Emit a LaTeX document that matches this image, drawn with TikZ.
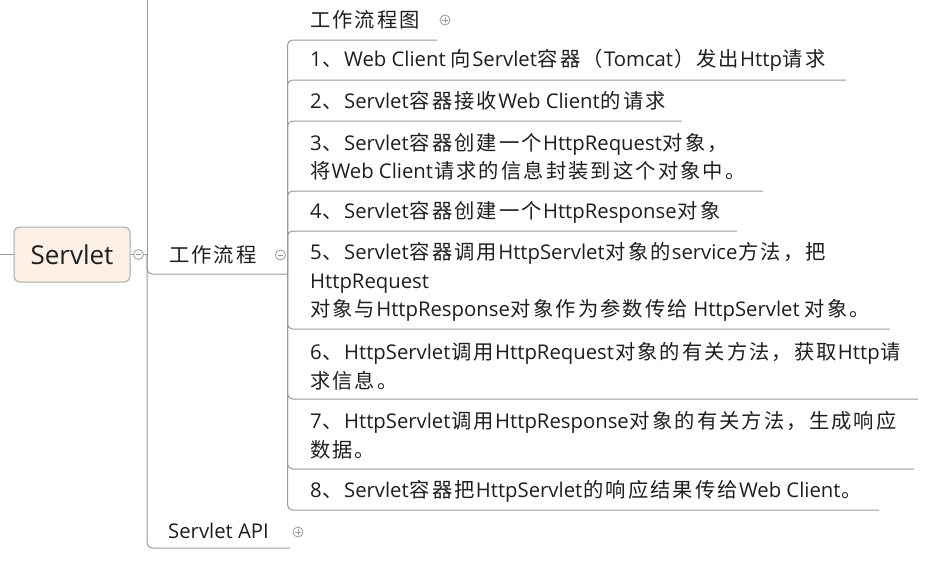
\documentclass[tikz,border=0pt]{standalone}
\usepackage{fontspec}
\setmainfont{Open Sans}
\newfontfamily\latinf{Open Sans}
\newfontfamily\cjk{Noto Sans CJK SC}[Scale=1.0]
\XeTeXinterchartokenstate=1
\newXeTeXintercharclass\CJKcls
\newcount\cjkc
\def\setcjkrange#1#2{\cjkc=#1\relax\loop\XeTeXcharclass\cjkc=\CJKcls\ifnum\cjkc<#2\advance\cjkc by 1\repeat}
\setcjkrange{"3000}{"303F}
\setcjkrange{"4E00}{"9FFF}
\setcjkrange{"FF00}{"FFEF}
\XeTeXinterchartoks 0 \CJKcls={\kern1pt\cjk}
\XeTeXinterchartoks 4095 \CJKcls={\cjk}
\XeTeXinterchartoks \CJKcls 0={\kern1pt\latinf}
\XeTeXinterchartoks \CJKcls 4095={\latinf}
\XeTeXinterchartoks \CJKcls \CJKcls={\kern2.1pt}
\definecolor{linec}{HTML}{9A9A9A}
\definecolor{txtc}{HTML}{1E1E1E}
\definecolor{rootfill}{HTML}{FDF1E7}
\definecolor{rootline}{HTML}{A8A8A8}
\begin{document}
\begin{tikzpicture}[x=1pt,y=-1pt,
  conn/.style={draw=linec,line width=1pt,rounded corners=5pt},
  rootbox/.style={draw=rootline,fill=rootfill,rounded corners=6pt,line width=1pt,
    minimum width=116pt,minimum height=55pt,inner sep=0pt,text=txtc,
    font=\fontsize{26pt}{30pt}\selectfont},
  topic/.style={anchor=west,inner sep=0pt,text=txtc,align=left,
    font=\fontsize{20.3pt}{28.5pt}\selectfont},
  tog/.style={circle,draw=linec,fill=white,line width=0.8pt,minimum size=10pt,inner sep=0pt},
  minus/.style={tog,path picture={\draw[linec,line width=0.8pt]
    ([xshift=-2.6pt]path picture bounding box.center) -- ([xshift=2.6pt]path picture bounding box.center);}},
  plus/.style={tog,path picture={\draw[linec,line width=0.8pt]
    ([xshift=-2.6pt]path picture bounding box.center) -- ([xshift=2.6pt]path picture bounding box.center)
    ([yshift=-2.6pt]path picture bounding box.center) -- ([yshift=2.6pt]path picture bounding box.center);}}
]
\useasboundingbox (0,0) rectangle (949,566);
% off-screen anchors
\coordinate (offleft) at (-5,254.5);
\coordinate (offtop) at (147,-10);
\coordinate (rhub) at (147,254.5);
\coordinate (whub) at (287.5,274);
% underline ends
\coordinate (u0) at (437,40);
\coordinate (u1) at (846,80);
\coordinate (u2) at (682,121);
\coordinate (u3) at (763,191);
\coordinate (u4) at (737,231);
\coordinate (u5) at (890,329);
\coordinate (u6) at (918,399);
\coordinate (u7) at (914,469);
\coordinate (u8) at (879,510);
\coordinate (ua) at (290,548);

% root
\node[rootbox] (root) at (72,254.5) {Servlet};
\draw[conn] (offleft) -- (root.west);
\draw[conn] (root.east) -- (rhub);
\draw[conn] (rhub) -- (offtop);
\draw[conn] (rhub) |- (whub);
\draw[conn] (rhub) |- (ua);

% level 1
\node[topic] (wl) at (169,255) {工作流程};
\node[topic] (api) at (168,531) {Servlet API};

% level 2
\node[topic] (t0) at (310,20) {工作流程图};
\node[topic] (t1) at (310,60) {1、Web Client 向Servlet容器（Tomcat）发出Http请求};
\node[topic] (t2) at (310,101) {2、Servlet容器接收Web Client的请求};
\node[topic] (t3) at (310,157) {3、Servlet容器创建一个HttpRequest对象，\\将Web Client请求的信息封装到这个对象中。};
\node[topic] (t4) at (310,212) {4、Servlet容器创建一个HttpResponse对象};
\node[topic] (t5) at (310,282) {5、Servlet容器调用HttpServlet对象的service方法，把\\HttpRequest\\对象与HttpResponse对象作为参数传给 HttpServlet 对象。};
\node[topic] (t6) at (310,366) {6、HttpServlet调用HttpRequest对象的有关方法，获取Http请\\求信息。};
\node[topic] (t7) at (310,435) {7、HttpServlet调用HttpResponse对象的有关方法，生成响应\\数据。};
\node[topic] (t8) at (310,491) {8、Servlet容器把HttpServlet的响应结果传给Web Client。};

\foreach \u in {u0,u1,u2,u3,u4,u5,u6,u7,u8}
  \draw[conn] (whub) |- (\u);

% toggles
\node[minus] (c0) at (138.5,254.5) {};
\node[minus] (c1) at (280.5,255) {};
\node[plus] (c2) at (445,20) {};
\node[plus] (c3) at (298,532) {};
\end{tikzpicture}
\end{document}
